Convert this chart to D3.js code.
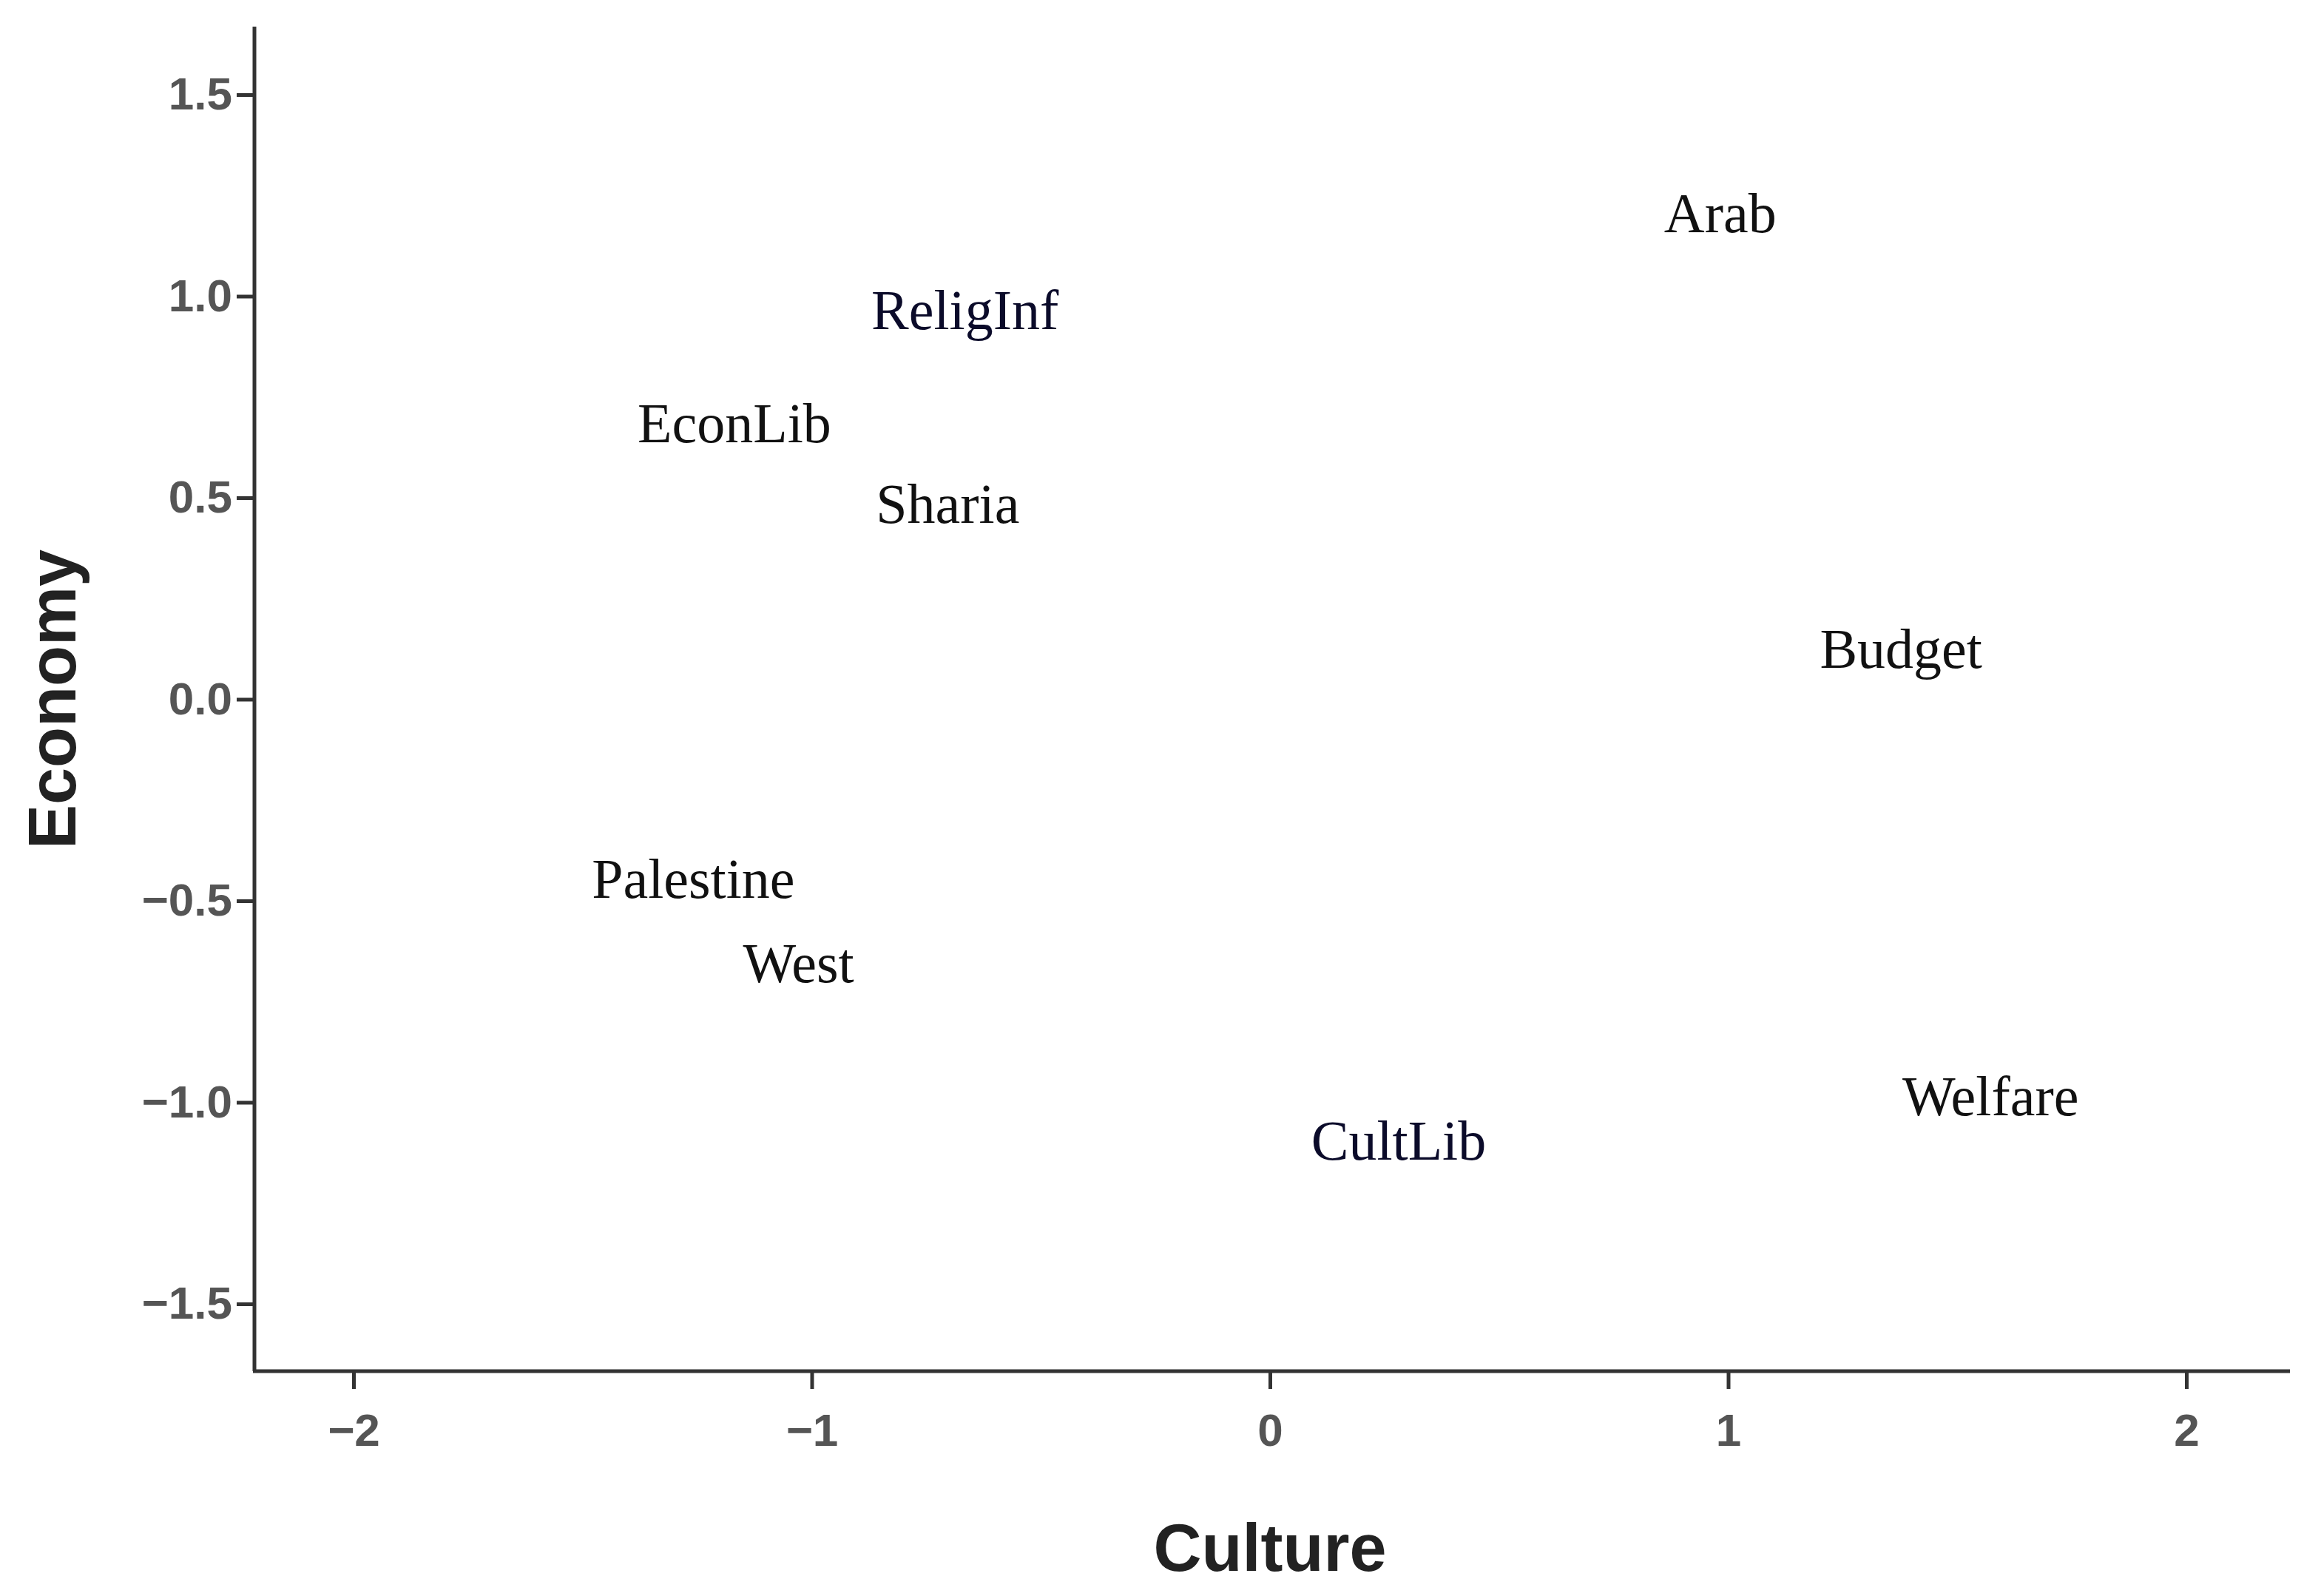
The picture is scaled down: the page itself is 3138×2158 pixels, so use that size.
<!DOCTYPE html>
<html><head><meta charset="utf-8">
<script src="https://cdn.jsdelivr.net/npm/d3@7"></script>
<style>body{margin:0;background:#fff}</style></head>
<body><svg id="c" width="3138" height="2158"></svg>
<script>
const labels = ["Arab","ReligInf","EconLib","Sharia","Budget","Palestine","West","CultLib","Welfare"];
const culture = [0.86,-0.87,-1.38,-0.86,1.20,-1.48,-1.15,0.09,1.38];
const economy = [1.19,0.95,0.67,0.47,0.11,-0.46,-0.67,-1.11,-1.00];
const labelColors = ["#111","#0b0b2a","#111","#111","#111","#111","#111","#0b0b2a","#111"];
const xTicks = [-2,-1,0,1,2];
const yTicks = [1.5,1.0,0.5,0.0,-0.5,-1.0,-1.5];

(function(){
const svg = d3.select("#c");
const x = d3.scaleLinear().domain([-2,2]).range([478,2956]);
const y = d3.scaleLinear().domain([-1.5,1.5]).range([1763,128]);
const pl = 344, pb = 1854, pr = 3096, pt = 36;

const xa = svg.append("g").attr("transform",`translate(0,${pb})`)
  .call(d3.axisBottom(x).tickValues(xTicks).tickFormat(d3.format("d")).tickSize(24).tickSizeOuter(0));
const ya = svg.append("g").attr("transform",`translate(${pl},0)`)
  .call(d3.axisLeft(y).tickValues(yTicks).tickFormat(d3.format(".1f")).tickSize(24).tickSizeOuter(0));
[xa,ya].forEach(a=>{
  a.selectAll("path").remove();
  a.selectAll("line").attr("stroke","#333").attr("stroke-width",5);
  a.selectAll("text").attr("font-family","Liberation Sans, Arial").attr("font-size",62)
   .attr("font-weight","bold").attr("fill","#555");
});
xa.selectAll("text").attr("dy","1.2em");
ya.selectAll("text").attr("dx","-0.05em");
svg.append("line").attr("x1",pl).attr("x2",pl).attr("y1",pt).attr("y2",pb).attr("stroke","#333").attr("stroke-width",5);
svg.append("line").attr("x1",pl-2).attr("x2",pr).attr("y1",pb).attr("y2",pb).attr("stroke","#333").attr("stroke-width",5);

svg.selectAll("text.lab").data(labels).enter().append("text").attr("class","lab")
  .attr("x",(d,i)=>x(culture[i])).attr("y",(d,i)=>y(economy[i]))
  .attr("dominant-baseline","middle")
  .attr("font-family","Liberation Serif, Times New Roman").attr("font-size",76)
  .attr("fill",(d,i)=>labelColors[i]).text(d=>d);

svg.append("text").attr("x",x(0)).attr("y",2124).attr("text-anchor","middle")
  .attr("font-family","Liberation Sans, Arial").attr("font-weight","bold").attr("font-size",90)
  .attr("fill","#222").text("Culture");
svg.append("text").attr("transform",`translate(102,${y(0)}) rotate(-90)`).attr("text-anchor","middle")
  .attr("font-family","Liberation Sans, Arial").attr("font-weight","bold").attr("font-size",90)
  .attr("fill","#222").text("Economy");
})();
</script></body></html>
